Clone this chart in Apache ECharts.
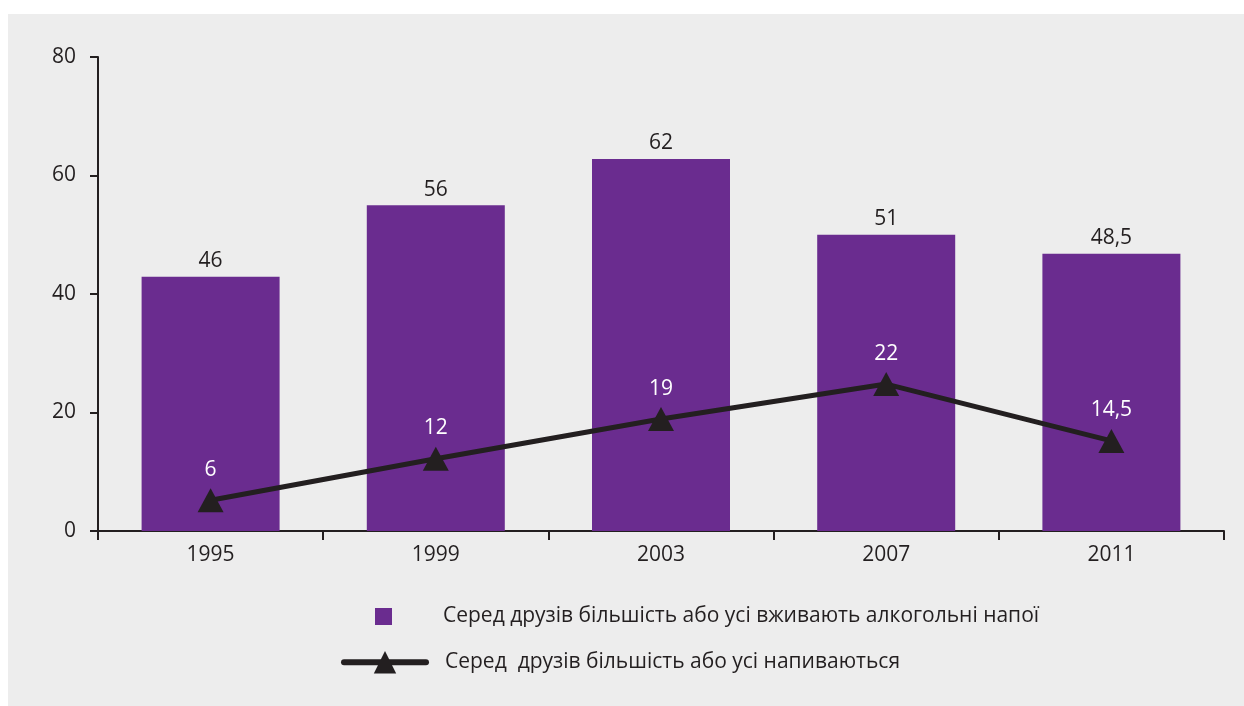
<!DOCTYPE html>
<html>
<head>
<meta charset="utf-8">
<script src="https://cdn.jsdelivr.net/npm/echarts@6/dist/echarts.min.js"></script>
<style>
  html, body { margin: 0; padding: 0; background: #ffffff; }
  #chart { position: absolute; left: 8px; top: 14px; width: 1236px; height: 692px; background: #ededed; }
</style>
</head>
<body>
<div id="chart"></div>
<script>
// роки опитування
const years = ['1995', '1999', '2003', '2007', '2011'];

// висота стовпців, як вони намальовані
const drinkValues = [42.9, 55.0, 62.8, 50.0, 46.8];
// підписи над стовпцями
const drinkLabels = ['46', '56', '62', '51', '48,5'];

// точки лінії, як вони намальовані
const drunkValues = [5.2, 12.2, 18.9, 24.8, 15.2];
const drunkLabels = ['6', '12', '19', '22', '14,5'];

const yTicks = { min: 0, max: 80, interval: 20 };

const drinkName = 'Серед друзів більшість або усі вживають алкогольні напої';
const drunkName = 'Серед  друзів більшість або усі напиваються';

const FONT = 'Open Sans';
const INK = '#231f20';
const PURPLE = '#6a2c8f';

const chart = echarts.init(document.getElementById('chart'));

chart.setOption({
    animation: false,
    textStyle: { fontFamily: FONT },
    grid: { left: 90, right: 20, top: 43, bottom: 175 },
    legend: [
        {
            data: [{ name: drinkName, icon: 'rect' }],
            left: 362,
            top: 587,
            itemWidth: 17,
            itemHeight: 17,
            textStyle: { fontFamily: FONT, fontSize: 21, color: INK, padding: [0, 0, 0, 46] }
        },
        {
            data: [{ name: drunkName }],
            left: 328,
            top: 632,
            itemWidth: 82,
            itemHeight: 28,
            lineStyle: { color: INK, width: 6, cap: 'round' },
            textStyle: { fontFamily: FONT, fontSize: 21, color: INK, padding: [0, 0, 0, 14] }
        }
    ],
    xAxis: {
        type: 'category',
        data: years,
        boundaryGap: true,
        axisLine: { lineStyle: { color: INK, width: 2 } },
        axisTick: { show: true, length: 9, lineStyle: { color: INK, width: 2 } },
        axisLabel: { fontFamily: FONT, fontSize: 21, color: INK, margin: 14 }
    },
    yAxis: {
        type: 'value',
        min: yTicks.min,
        max: yTicks.max,
        interval: yTicks.interval,
        splitLine: { show: false },
        axisLine: { show: true, lineStyle: { color: INK, width: 2 } },
        axisTick: { show: true, length: 8, lineStyle: { color: INK, width: 2 } },
        axisLabel: { fontFamily: FONT, fontSize: 21, color: INK, margin: 22 }
    },
    series: [
        {
            name: drinkName,
            type: 'bar',
            data: drinkValues,
            barWidth: 138,
            itemStyle: { color: PURPLE },
            label: {
                show: true,
                position: 'top',
                distance: 5,
                fontFamily: FONT,
                fontSize: 21,
                color: INK,
                formatter: p => drinkLabels[p.dataIndex]
            }
        },
        {
            name: drunkName,
            type: 'line',
            data: drunkValues,
            symbol: 'triangle',
            symbolSize: [26, 24],
            lineStyle: { color: INK, width: 5 },
            itemStyle: { color: INK },
            z: 5,
            label: {
                show: true,
                position: 'top',
                distance: 8,
                fontFamily: FONT,
                fontSize: 21,
                color: '#ffffff',
                formatter: p => drunkLabels[p.dataIndex]
            }
        }
    ]
});
</script>
</body>
</html>
